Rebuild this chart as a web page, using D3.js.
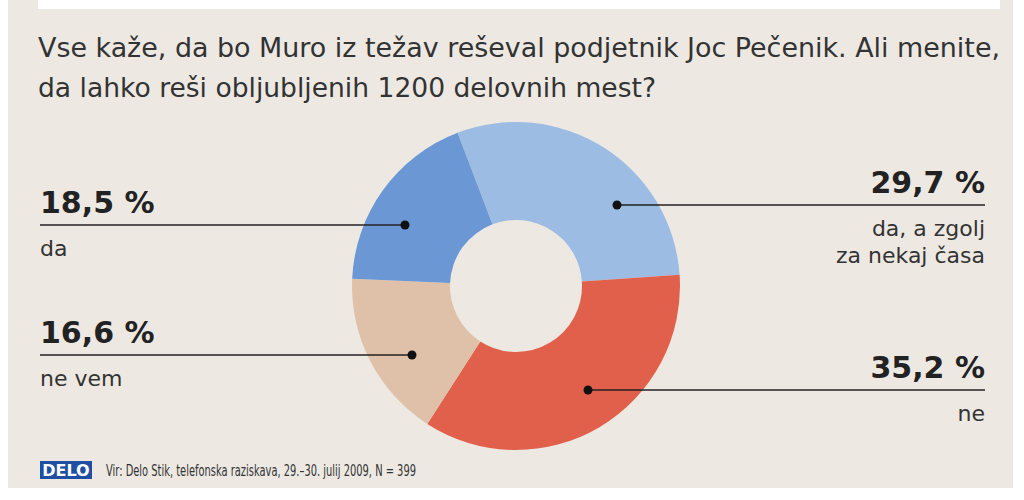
<!DOCTYPE html><html><head><meta charset="utf-8">
<script src="https://cdn.jsdelivr.net/npm/d3@7"></script>
<style>body{margin:0;background:#fff}text{font-family:"DejaVu Sans",sans-serif}</style></head><body>
<svg id="c" width="1024" height="500"></svg>
<script>
const categories=["da, a zgolj za nekaj časa","ne","ne vem","da"];
const values=[29.7,35.2,16.6,18.5];
const valueLabels=["29,7 %","35,2 %","16,6 %","18,5 %"];
const colors=["#9dbce4","#e0604b","#dfc1a9","#6b98d5"];
const svg=d3.select("#c");
svg.append("rect").attr("x",8).attr("y",0).attr("width",1005).attr("height",488).attr("fill","#ede9e2");
svg.append("rect").attr("x",38).attr("y",0).attr("width",962).attr("height",9).attr("fill","#fff");
svg.append("text").attr("x",38).attr("y",57).attr("font-size",26).attr("fill","#333").attr("textLength",962).attr("lengthAdjust","spacingAndGlyphs").text("Vse kaže, da bo Muro iz težav reševal podjetnik Joc Pečenik. Ali menite,");
svg.append("text").attr("x",38).attr("y",97).attr("font-size",26).attr("fill","#333").attr("textLength",618).attr("lengthAdjust","spacingAndGlyphs").text("da lahko reši obljubljenih 1200 delovnih mest?");
const cx=516,cy=286;
const pie=d3.pie().sort(null).startAngle(-0.058*2*Math.PI).endAngle(0.942*2*Math.PI)(values);
const arc=d3.arc().innerRadius(66).outerRadius(164);
const g=svg.append("g").attr("transform",`translate(${cx},${cy})`);
g.selectAll("path").data(pie).join("path").attr("d",arc).attr("fill",(d,i)=>colors[i]);
const lab=[
 {side:"r",y:205,dot:[617,205],sub:["da, a zgolj","za nekaj časa"]},
 {side:"r",y:390,dot:[588,390],sub:["ne"]},
 {side:"l",y:355,dot:[412,355],sub:["ne vem"]},
 {side:"l",y:225,dot:[405,225],sub:["da"]}];
lab.forEach((l,i)=>{
 const x0=l.side=="l"?40:l.dot[0], x1=l.side=="l"?l.dot[0]:985;
 svg.append("line").attr("x1",x0).attr("x2",x1).attr("y1",l.y).attr("y2",l.y).attr("stroke","#222").attr("stroke-width",1.5);
 svg.append("circle").attr("cx",l.dot[0]).attr("cy",l.y).attr("r",4.5).attr("fill","#111");
 const tx=l.side=="l"?40:985, anc=l.side=="l"?"start":"end";
 svg.append("text").attr("x",tx).attr("y",l.y-12).attr("text-anchor",anc).attr("font-size",30).attr("font-weight","bold").attr("fill","#222").text(valueLabels[i]);
 l.sub.forEach((s,j)=>svg.append("text").attr("x",tx).attr("y",l.y+31+j*27).attr("text-anchor",anc).attr("font-size",22).attr("fill","#333").text(s));
});
svg.append("rect").attr("x",40).attr("y",461).attr("width",52).attr("height",18).attr("fill","#1f4fa3");
svg.append("text").attr("x",66).attr("y",476).attr("text-anchor","middle").attr("font-size",16).attr("font-weight","bold").attr("fill","#fff").text("DELO");
svg.append("text").attr("x",106).attr("y",476).attr("font-size",15).attr("fill","#333").attr("textLength",310).attr("lengthAdjust","spacingAndGlyphs").text("Vir: Delo Stik, telefonska raziskava, 29.–30. julij 2009, N = 399");
</script></body></html>
